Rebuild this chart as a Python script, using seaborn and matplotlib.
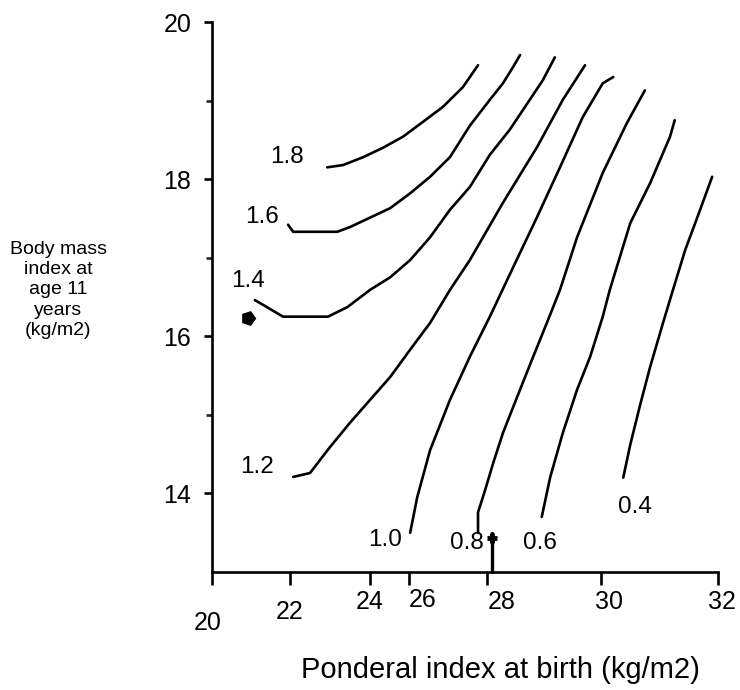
import numpy as np
import matplotlib
matplotlib.use("Agg")
import matplotlib.pyplot as plt
import matplotlib.transforms as mtransforms
import seaborn as sns

# contour lines: ponderal index at birth (x) vs BMI age 11 (y)
levels = ["1.8", "1.6", "1.4", "1.2", "1.0", "0.8", "0.6", "0.4"]

pi_18 = [22.93, 23.33, 23.83, 24.67, 25.69, 26.36, 26.87, 27.38, 27.77]
bmi_18 = [18.15, 18.18, 18.28, 18.40, 18.54, 18.73, 18.92, 19.17, 19.45]

pi_16 = [21.95, 22.08, 23.18, 23.50, 24.00, 25.03, 26.03, 26.54, 27.05, 27.56, 28.05, 28.28, 28.46, 28.58]
bmi_16 = [17.42, 17.33, 17.33, 17.39, 17.51, 17.63, 17.82, 18.03, 18.28, 18.68, 19.01, 19.22, 19.43, 19.58]

pi_14 = [21.10, 21.31, 21.82, 22.95, 23.43, 24.00, 25.03, 26.03, 26.54, 27.05, 27.56, 28.05, 28.40, 28.75, 28.98, 29.19]
bmi_14 = [16.46, 16.40, 16.25, 16.25, 16.37, 16.59, 16.75, 16.97, 17.26, 17.61, 17.90, 18.31, 18.63, 19.01, 19.26, 19.55]

pi_12 = [22.08, 22.50, 23.00, 23.50, 24.00, 25.03, 26.03, 26.54, 27.05, 27.56, 28.28, 28.88, 29.33, 29.72]
bmi_12 = [14.21, 14.26, 14.59, 14.90, 15.19, 15.48, 15.83, 16.17, 16.59, 16.97, 17.70, 18.41, 19.01, 19.45]

pi_10 = [26.03, 26.21, 26.54, 27.05, 27.56, 28.05, 28.46, 28.88, 29.28, 29.68, 30.03, 30.21]
bmi_10 = [13.50, 13.95, 14.55, 15.19, 15.74, 16.25, 16.88, 17.52, 18.15, 18.79, 19.22, 19.30]

pi_08 = [27.77, 27.77, 27.95, 28.11, 28.28, 28.53, 28.81, 29.05, 29.28, 29.58, 30.03, 30.44, 30.75]
bmi_08 = [13.50, 13.76, 14.04, 14.39, 14.77, 15.23, 15.74, 16.17, 16.59, 17.26, 18.08, 18.71, 19.13]

pi_06 = [28.96, 29.11, 29.33, 29.58, 29.81, 30.03, 30.15, 30.50, 30.84, 31.18, 31.26]
bmi_06 = [13.70, 14.21, 14.77, 15.32, 15.74, 16.25, 16.59, 17.44, 17.95, 18.54, 18.75]

pi_04 = [30.38, 30.50, 30.67, 30.84, 31.06, 31.23, 31.44, 31.66, 31.90]
bmi_04 = [14.20, 14.62, 15.13, 15.61, 16.17, 16.59, 17.10, 17.54, 18.03]

pi_lines = [pi_18, pi_16, pi_14, pi_12, pi_10, pi_08, pi_06, pi_04]
bmi_lines = [bmi_18, bmi_16, bmi_14, bmi_12, bmi_10, bmi_08, bmi_06, bmi_04]

# mean values marked on the chart
mean_bmi_marker = (20.92, 16.23)
mean_pi_marker = (28.09, 13.43)

x_ticks = [20, 22, 24, 26, 28, 30, 32]
x_labels = ["20", "22", "24", "26", "28", "30", "32"]
y_major = [14, 16, 18, 20]
y_minor = [15, 17, 19]

# the printed x axis is not evenly spaced; relative spacing of its ticks
x_tick_pos = [0, 78, 158, 197, 275, 389, 506]


def fwd(v):
    return np.interp(v, x_ticks, x_tick_pos)


def inv(p):
    return np.interp(p, x_tick_pos, x_ticks)


sns.set_style("ticks")
plt.rcParams["font.family"] = ["Liberation Sans", "DejaVu Sans"]
plt.rcParams["text.color"] = "black"

fig = plt.figure(figsize=(7.4, 6.9), dpi=100)
ax = fig.add_axes([212 / 740, 1 - 572 / 690, 506 / 740, 550 / 690])
ax.set_xscale("function", functions=(fwd, inv))

for xs, ys in zip(pi_lines, bmi_lines):
    sns.lineplot(x=xs, y=ys, sort=False, estimator=None, color="black",
                 linewidth=1.9, ax=ax)

# label each contour next to its lower end (offsets in pixels)
label_offsets = [(-40, 10), (-26, 8), (-7, 19), (-36, 10),
                 (-25, -7), (-11, -10), (-2, -26), (12, -29)]
for lev, xs, ys, off in zip(levels, pi_lines, bmi_lines, label_offsets):
    ax.annotate(lev, (xs[0], ys[0]), xytext=off, textcoords="offset pixels",
                ha="center", va="center", fontsize=17.5, color="black")

ax.plot([mean_bmi_marker[0]], [mean_bmi_marker[1]], marker=(5, 0, -90),
        color="black", markersize=10, linestyle="none", clip_on=False)
ax.plot([mean_pi_marker[0], mean_pi_marker[0]], [13, mean_pi_marker[1] + 0.07],
        color="black", linewidth=2.4, clip_on=False)
ax.plot([mean_pi_marker[0]], [mean_pi_marker[1]], marker="+", color="black",
        markersize=7, markeredgewidth=3.5, linestyle="none")

ax.set_xlim(20, 32)
ax.set_ylim(13, 20)
ax.set_xticks(x_ticks)
ax.set_xticklabels(x_labels)
ax.set_yticks(y_major)
ax.set_yticks(y_minor, minor=True)
ax.xaxis.set_minor_locator(matplotlib.ticker.NullLocator())

sns.despine(ax=ax)
for side in ["left", "bottom"]:
    ax.spines[side].set_linewidth(1.9)
    ax.spines[side].set_color("black")
ax.tick_params(axis="x", length=9, width=1.9, labelsize=18, pad=4, colors="black")
ax.tick_params(axis="y", which="major", length=6, width=1.9, labelsize=18, pad=9, colors="black")
ax.tick_params(axis="y", which="minor", length=4, width=1.9)

ax.set_xlabel("Ponderal index at birth (kg/m2)", fontsize=21, color="black")
ax.xaxis.set_label_coords((500 - 212) / 506, (572 - 656) / 550)
fig.text(58 / 740, 1 - 290 / 690, "Body mass\nindex at\nage 11\nyears\n(kg/m2)",
         ha="center", va="center", fontsize=14, linespacing=1.25, color="black")

# the printed tick labels sit a little off their ticks
label_shift = {"20": (-4, -21), "22": (0, -10), "26": (14, 2), "28": (15, 0), "30": (8, 0), "32": (4, 0)}
for lab in ax.get_xticklabels():
    dx, dy = label_shift.get(lab.get_text(), (0, 0))
    lab.set_transform(lab.get_transform() +
                      mtransforms.ScaledTranslation(dx / 100, dy / 100, fig.dpi_scale_trans))

fig.savefig("out.png", dpi=100)
